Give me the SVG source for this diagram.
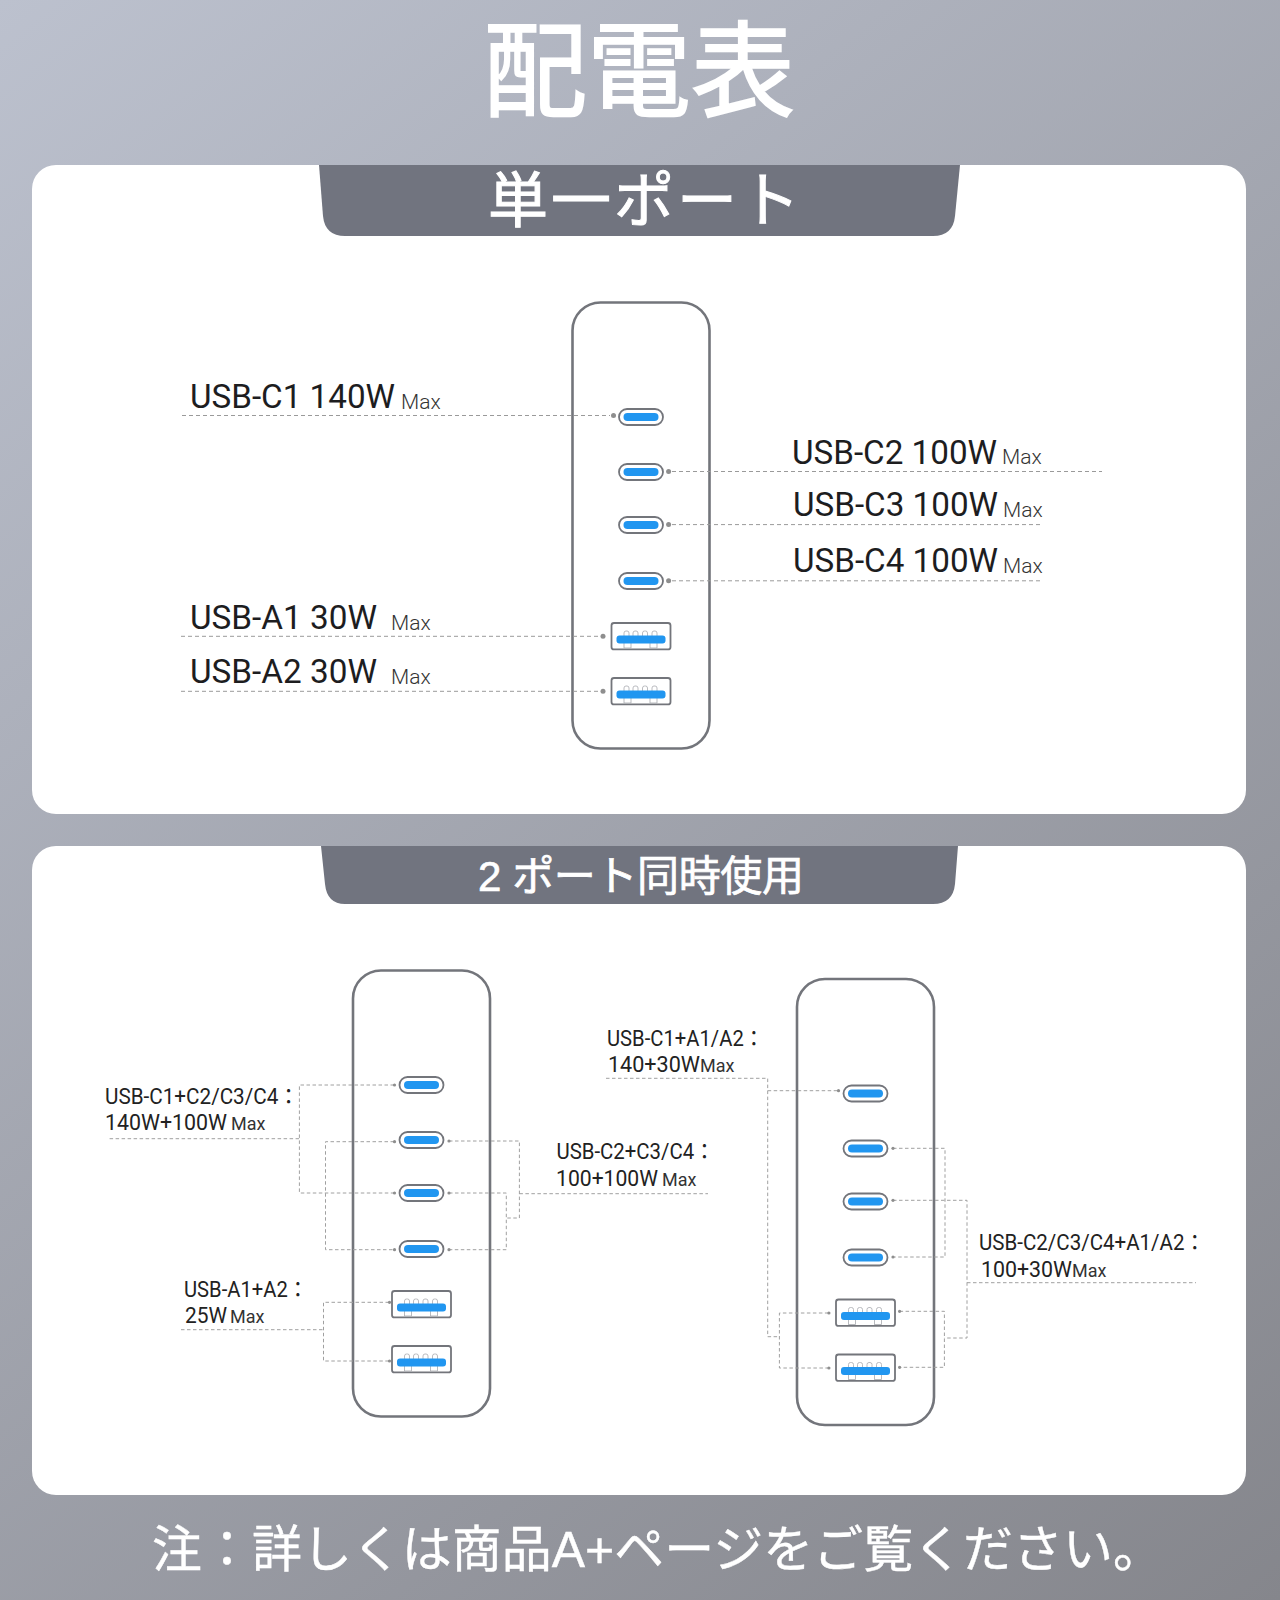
<svg xmlns="http://www.w3.org/2000/svg" width="1280" height="1600" viewBox="0 0 1280 1600">
<style>
text{font-family:Roboto,"Noto Sans CJK JP",sans-serif;}
.cjk{font-family:"Liberation Sans","Noto Sans CJK JP","Noto Sans CJK SC",sans-serif;fill:#fff;stroke:#fff}
.l1{font-size:34px;fill:#1d1d1f}
.m1{font-size:21px;fill:#333;font-weight:300}
.l2{font-size:22px;fill:#222}
.m2{font-size:18px;fill:#333}
.d1{fill:none;stroke:#9a9a9a;stroke-width:1;stroke-dasharray:4 3}
.d2{fill:none;stroke:#a0a0a0;stroke-width:1;stroke-dasharray:3.5 2.5}
.dot1{fill:#8e8e8e}
.dot2{fill:#8e8e8e}
.body{fill:#fff;stroke:#73757b;stroke-width:2.6}
.pc{fill:#fff;stroke:#73757b;stroke-width:1.8}
.blue{fill:#2196f0}
.pin{fill:#fff;stroke:#a9abb0;stroke-width:.8}
</style>
<defs>
<linearGradient id="bg" gradientUnits="userSpaceOnUse" x1="0" y1="0" x2="1280" y2="1600">
<stop offset="0" stop-color="#bcc1ce"/><stop offset="1" stop-color="#85868c"/>
</linearGradient>
<g id="portC"><rect class="pc" x="-22" y="-8" width="44" height="16" rx="8"/><rect class="blue" x="-17.5" y="-4" width="35" height="8" rx="4"/></g>
<g id="portA"><rect class="pc" x="-29.5" y="-13" width="59" height="26.4" rx="2.5"/>
<rect class="pin" x="-17" y="-5" width="5" height="8" rx="2"/><rect class="pin" x="-8" y="-5" width="5" height="8" rx="2"/><rect class="pin" x="1.5" y="-5" width="5" height="8" rx="2"/><rect class="pin" x="11" y="-5" width="5" height="8" rx="2"/>
<rect class="pin" x="-17" y="5" width="7" height="7"/><rect class="pin" x="9" y="5" width="7" height="7"/>
<rect class="blue" x="-24.5" y="-0.5" width="49" height="8" rx="3"/></g>
<g id="charger">
<rect class="body" x="572.5" y="302.5" width="137" height="446" rx="28"/>
<use href="#portC" x="641" y="417"/><use href="#portC" x="641" y="472"/><use href="#portC" x="641" y="525"/><use href="#portC" x="641" y="581"/>
<use href="#portA" x="641" y="636"/><use href="#portA" x="641" y="691"/>
</g>
</defs>
<rect id="background" width="1280" height="1600" fill="url(#bg)"/>
<text class="cjk" x="483" y="109" style="font-size:104px;stroke-width:1.8">配電表</text>

<g id="panel-single">
<rect x="32" y="165" width="1214" height="649" rx="24" fill="#fff"/>
<path d="M319 165H960L955 216Q953 236 933 236H345Q325 236 323 216Z" fill="#71747f"/>
<text class="cjk" x="488" y="222" style="font-size:60px;stroke-width:1" textLength="312">単一ポート</text>
</g>
<g id="panel-dual">
<rect x="32" y="846" width="1214" height="649" rx="24" fill="#fff"/>
<path d="M321 846H958L955 884Q953 904 933 904H345Q327 904 325 884Z" fill="#71747f"/>
<text class="cjk" x="478" y="891" style="font-size:42px;stroke-width:.7" textLength="326">2 ポート同時使用</text>
</g>

<g id="device-single"><use href="#charger"/></g>
<g id="device-dual-left"><use href="#charger" x="-219.5" y="668"/></g>
<g id="device-dual-right"><use href="#charger" x="224.5" y="676.5"/></g>

<g id="connectors">
<path class="d1" d="M182 415.5H610M672 471.5H1102M672 524.6H1043M672 580.8H1043M181 636.3H600M181 691.3H600"/>
<g class="dot1"><circle cx="613.5" cy="415.5" r="2.5"/><circle cx="668.6" cy="471.5" r="2.5"/><circle cx="668.6" cy="524.6" r="2.5"/><circle cx="668.6" cy="580.8" r="2.5"/><circle cx="603" cy="636.3" r="2.5"/><circle cx="603" cy="691.3" r="2.5"/></g>
<path class="d2" d="M109.6 1138.7H299.4M394 1085H299.4V1193H394M394 1141.7H325.5V1249.7H394"/>
<path class="d2" d="M449 1141H519.4V1218H506.3M449 1193H506.3V1249.7H449M519.4 1193.7H708"/>
<path class="d2" d="M181 1329.7H323.5M389 1302.3H323.5V1361H389"/>
<path class="d2" d="M606 1078.3H767.7V1336.7H779.4M767.7 1090.7H838M828.4 1313H779.4V1368H828.4"/>
<path class="d2" d="M893 1148.3H945V1257H893M893 1200.3H967V1338H944.4M899.6 1311.3H944.4V1367.3H899.6M967 1282.7H1196"/>
<g class="dot2"><circle cx="394.5" cy="1085" r="1.6"/><circle cx="394.5" cy="1193" r="1.6"/><circle cx="394.5" cy="1141.7" r="1.6"/><circle cx="394.5" cy="1249.7" r="1.6"/><circle cx="449" cy="1141" r="1.6"/><circle cx="449" cy="1193" r="1.6"/><circle cx="449" cy="1249.7" r="1.6"/><circle cx="389.5" cy="1302.3" r="1.6"/><circle cx="389.5" cy="1361" r="1.6"/><circle cx="838.5" cy="1090.7" r="1.6"/><circle cx="828.9" cy="1313" r="1.6"/><circle cx="828.9" cy="1368" r="1.6"/><circle cx="893" cy="1148.3" r="1.6"/><circle cx="893" cy="1200.3" r="1.6"/><circle cx="893" cy="1257" r="1.6"/><circle cx="899.6" cy="1311.3" r="1.6"/><circle cx="899.6" cy="1367.3" r="1.6"/></g>
</g>

<g id="label-c1"><text class="l1" x="190" y="408" textLength="205" lengthAdjust="spacingAndGlyphs">USB-C1 140W</text><text class="m1" x="401" y="409">Max</text></g>
<g id="label-c2"><text class="l1" x="792" y="463.5" textLength="205" lengthAdjust="spacingAndGlyphs">USB-C2 100W</text><text class="m1" x="1002" y="464">Max</text></g>
<g id="label-c3"><text class="l1" x="793" y="516" textLength="205" lengthAdjust="spacingAndGlyphs">USB-C3 100W</text><text class="m1" x="1003" y="516.5">Max</text></g>
<g id="label-c4"><text class="l1" x="793" y="572" textLength="205" lengthAdjust="spacingAndGlyphs">USB-C4 100W</text><text class="m1" x="1003" y="572.5">Max</text></g>
<g id="label-a1"><text class="l1" x="190" y="629" textLength="187" lengthAdjust="spacingAndGlyphs">USB-A1 30W</text><text class="m1" x="391" y="630">Max</text></g>
<g id="label-a2"><text class="l1" x="190" y="683" textLength="187" lengthAdjust="spacingAndGlyphs">USB-A2 30W</text><text class="m1" x="391" y="684">Max</text></g>

<g id="label-c1-c2"><text class="l2" x="105" y="1103.7" textLength="194" lengthAdjust="spacingAndGlyphs">USB-C1+C2/C3/C4：</text><text class="l2" x="105" y="1130" textLength="122" lengthAdjust="spacingAndGlyphs">140W+100W</text><text class="m2" x="231" y="1130">Max</text></g>
<g id="label-c2-c3"><text class="l2" x="556.5" y="1159.3" textLength="158" lengthAdjust="spacingAndGlyphs">USB-C2+C3/C4：</text><text class="l2" x="556" y="1186" textLength="102" lengthAdjust="spacingAndGlyphs">100+100W</text><text class="m2" x="662" y="1186">Max</text></g>
<g id="label-a1-a2"><text class="l2" x="184" y="1297" textLength="124" lengthAdjust="spacingAndGlyphs">USB-A1+A2：</text><text class="l2" x="185" y="1323" textLength="42" lengthAdjust="spacingAndGlyphs">25W</text><text class="m2" x="230" y="1323">Max</text></g>
<g id="label-c1-a"><text class="l2" x="607" y="1046.3" textLength="157" lengthAdjust="spacingAndGlyphs">USB-C1+A1/A2：</text><text class="l2" x="608" y="1072" textLength="92" lengthAdjust="spacingAndGlyphs">140+30W</text><text class="m2" x="700" y="1072">Max</text></g>
<g id="label-c2-a"><text class="l2" x="979" y="1250" textLength="226" lengthAdjust="spacingAndGlyphs">USB-C2/C3/C4+A1/A2：</text><text class="l2" x="981" y="1276.7" textLength="91" lengthAdjust="spacingAndGlyphs">100+30W</text><text class="m2" x="1072" y="1276.7">Max</text></g>

<text id="footer" class="cjk" x="152" y="1567" style="font-size:50px;stroke-width:.4" textLength="1011" lengthAdjust="spacingAndGlyphs">注：詳しくは商品A+ページをご覧ください。</text>
</svg>
